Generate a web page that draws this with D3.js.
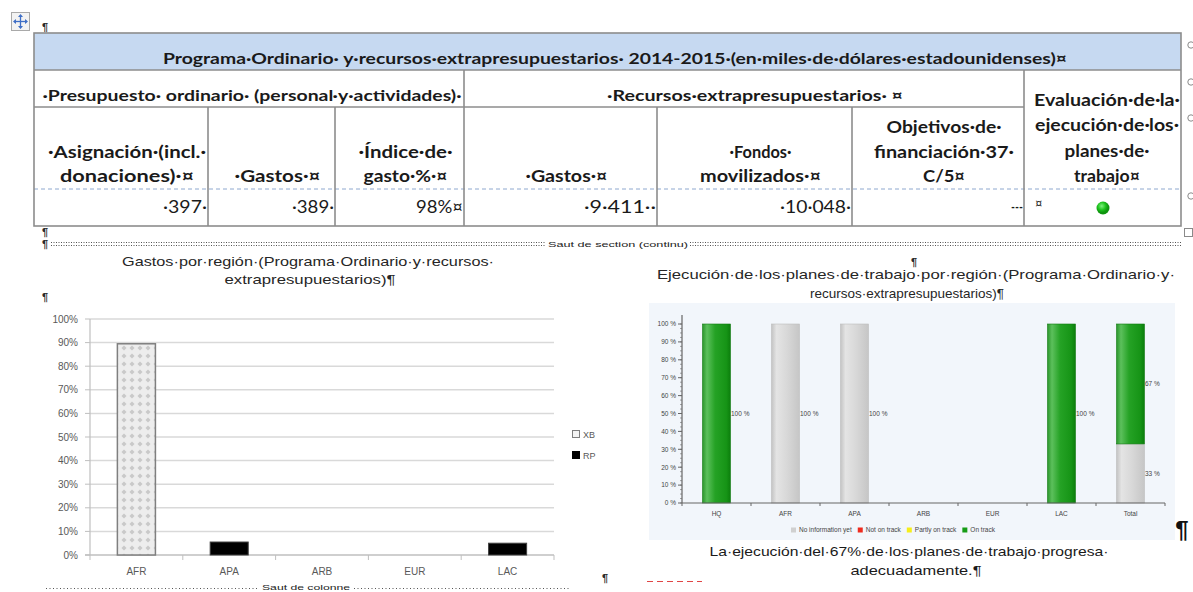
<!DOCTYPE html>
<html>
<head>
<meta charset="utf-8">
<script src="https://cdn.jsdelivr.net/npm/d3@7"></script>
<style>
  body { margin: 0; background: #fff; }
  svg { display: block; }
</style>
</head>
<body>
<svg id="page" width="1193" height="592"></svg>
<script>
// ---- table content ----
const tableTitle = "Programa·Ordinario· y·recursos·extrapresupuestarios· 2014-2015·(en·miles·de·dólares·estadounidenses)¤";
const groupLabels = ["·Presupuesto· ordinario· (personal·y·actividades)·", "·Recursos·extrapresupuestarios· ¤"];
const evalLabel = ["Evaluación·de·la·", "ejecución·de·los·", "planes·de·", "trabajo¤"];
const columnLabels = [
  ["·Asignación·(incl.·", "donaciones)·¤"],
  ["·Gastos·¤"],
  ["·Índice·de·", "gasto·%·¤"],
  ["·Gastos·¤"],
  ["·Fondos·", "movilizados·¤"],
  ["Objetivos·de·", "financiación·37·", "C/5¤"]
];
const tableValues = ["·397·", "·389·", "98%¤", "·9·411··", "·10·048·", "---"];

// ---- left chart: gastos por región ----
const regionCats = ["AFR", "APA", "ARB", "EUR", "LAC"];
const xbShare = [0.895, 0, 0, 0, 0];
const rpShare = [0, 0.055, 0, 0, 0.05];
const shareTicks = [0, 0.1, 0.2, 0.3, 0.4, 0.5, 0.6, 0.7, 0.8, 0.9, 1];
const shareSeries = ["XB", "RP"];

// ---- right chart: ejecución de los planes ----
const planCats = ["HQ", "AFR", "APA", "ARB", "EUR", "LAC", "Total"];
const noInfoPct = [0, 100, 100, 0, 0, 0, 33];
const notOnTrackPct = [0, 0, 0, 0, 0, 0, 0];
const partlyPct = [0, 0, 0, 0, 0, 0, 0];
const onTrackPct = [100, 0, 0, 0, 0, 100, 67];
const statusNames = ["No information yet", "Not on track", "Partly on track", "On track"];
const pctTicks = [0, 10, 20, 30, 40, 50, 60, 70, 80, 90, 100];

// layout (word table geometry, text widths as rendered by Calibri)
const colEdges = [34, 208, 335, 464, 657, 852, 1024, 1181];
const rowEdges = [33, 70, 107, 189, 226];
const colLabelWidths = [[158, 134], [86], [94, 84], [82], [62, 121], [115, 140, 42]];
const evalWidths = [146, 144, 85, 66];
const valueWidths = [44, 42, 47, 72, 71, 12];
const tableFont = "Lato";
const chartFont = "Liberation Sans";

const svg = d3.select("#page");
svg.append("rect").attr("width", 1193).attr("height", 592).attr("fill", "#fff");

function label(g, str, x, y, o = {}) {
  const t = g.append("text")
    .attr("x", x)
    .attr("y", y)
    .attr("font-family", o.family || chartFont)
    .attr("font-size", o.size || 12)
    .attr("font-weight", o.weight || "normal")
    .attr("fill", o.fill || "#222")
    .attr("text-anchor", o.anchor || "start")
    .text(str);
  if (o.width) t.attr("textLength", o.width).attr("lengthAdjust", "spacingAndGlyphs");
  return t;
}

const defs = svg.append("defs");

// ---------- word marks ----------
const marks = svg.append("g");
marks.append("rect").attr("x", 11.5).attr("y", 12.5).attr("width", 18).attr("height", 18)
  .attr("fill", "#f3f3f3").attr("stroke", "#a9a9a9");
const arrow = marks.append("g").attr("stroke", "#3f6fc6").attr("stroke-width", 1.3).attr("fill", "#3f6fc6");
arrow.append("line").attr("x1", 14).attr("x2", 27).attr("y1", 21.5).attr("y2", 21.5);
arrow.append("line").attr("x1", 20.5).attr("x2", 20.5).attr("y1", 15).attr("y2", 28);
arrow.append("path").attr("d", "M20.5,14 l-2.5,3 h5z M20.5,29 l-2.5,-3 h5z M13,21.5 l3,-2.5 v5z M28,21.5 l-3,-2.5 v5z").attr("stroke", "none");

[[45, 31], [45, 236], [914, 266], [45, 301], [605, 582]].forEach(([x, y]) =>
  label(marks, "¶", x, y, { size: 11, weight: "bold", fill: "#2b2b2b", anchor: "middle" }));

[45, 82, 118, 196].forEach(cy =>
  marks.append("circle").attr("cx", 1191).attr("cy", cy).attr("r", 3.2)
    .attr("fill", "none").attr("stroke", "#8a8a8a"));
marks.append("rect").attr("x", 1184.5).attr("y", 228.5).attr("width", 8).attr("height", 8)
  .attr("fill", "none").attr("stroke", "#8a8a8a");

// section break
label(marks, "¶", 45, 248, { size: 11, weight: "bold", fill: "#2b2b2b", anchor: "middle" });
[[51, 546], [690, 1181]].forEach(([a, b]) => {
  [242.5, 245.5].forEach(y => marks.append("line").attr("x1", a).attr("x2", b).attr("y1", y).attr("y2", y)
    .attr("stroke", "#555").attr("stroke-dasharray", "1,1.5"));
});
label(marks, "Saut de section (continu)", 618, 247, { size: 8, fill: "#222", anchor: "middle", width: 140 });

// column break (at the bottom edge)
[[46, 258], [354, 571]].forEach(([a, b]) =>
  marks.append("line").attr("x1", a).attr("x2", b).attr("y1", 588.5).attr("y2", 588.5)
    .attr("stroke", "#555").attr("stroke-dasharray", "1,2.5"));
label(marks, "Saut de colonne", 306, 590, { size: 8, fill: "#222", anchor: "middle", width: 88 });
marks.append("line").attr("x1", 647).attr("x2", 702).attr("y1", 581.5).attr("y2", 581.5)
  .attr("stroke", "#e04545").attr("stroke-dasharray", "6,4");

// ---------- table ----------
const tbl = svg.append("g");
tbl.append("rect").attr("x", colEdges[0]).attr("y", rowEdges[0])
  .attr("width", colEdges[7] - colEdges[0]).attr("height", rowEdges[1] - rowEdges[0])
  .attr("fill", "#c6d9f1");

tbl.append("line").attr("x1", colEdges[0]).attr("x2", colEdges[7])
  .attr("y1", rowEdges[3]).attr("y2", rowEdges[3])
  .attr("stroke", "#8ea8cf").attr("stroke-width", 1).attr("stroke-dasharray", "4,3");

const border = tbl.append("g").attr("stroke", "#8c8c8c").attr("stroke-width", 1.6).attr("fill", "none");
border.append("rect").attr("x", colEdges[0]).attr("y", rowEdges[0])
  .attr("width", colEdges[7] - colEdges[0]).attr("height", rowEdges[4] - rowEdges[0]);
border.append("line").attr("x1", colEdges[0]).attr("x2", colEdges[7]).attr("y1", rowEdges[1]).attr("y2", rowEdges[1]);
border.append("line").attr("x1", colEdges[0]).attr("x2", colEdges[6]).attr("y1", rowEdges[2]).attr("y2", rowEdges[2]);
[3, 6].forEach(i => border.append("line").attr("x1", colEdges[i]).attr("x2", colEdges[i])
  .attr("y1", rowEdges[1]).attr("y2", rowEdges[4]));
[1, 2, 4, 5].forEach(i => border.append("line").attr("x1", colEdges[i]).attr("x2", colEdges[i])
  .attr("y1", rowEdges[2]).attr("y2", rowEdges[4]));

const bold = { family: tableFont, size: 17, weight: "bold", fill: "#1a1a1a", anchor: "middle" };
label(tbl, tableTitle, 615, 64, { ...bold, size: 15.5, width: 904 });
label(tbl, groupLabels[0], 252, 101, { ...bold, size: 15.5, width: 419 });
label(tbl, groupLabels[1], 755, 101, { ...bold, size: 15.5, width: 296 });

evalLabel.forEach((s, i) =>
  label(tbl, s, 1107, 106 + i * 25.3, { ...bold, width: evalWidths[i] }));

columnLabels.forEach((lines, c) => {
  const cx = (colEdges[c] + colEdges[c + 1]) / 2 + 6;
  lines.forEach((s, i) => {
    const y = 182 - (lines.length - 1 - i) * 24.5;
    label(tbl, s, cx, y, { ...bold, width: colLabelWidths[c][i] });
  });
});

tableValues.forEach((v, c) =>
  label(tbl, v, colEdges[c + 1] - 1, 213, { family: tableFont, size: 17, fill: "#1a1a1a", anchor: "end", width: valueWidths[c] }));

label(tbl, "¤", 1035, 208, { family: tableFont, size: 13, fill: "#1a1a1a" });
const dot = defs.append("radialGradient").attr("id", "dotGrad").attr("cx", "40%").attr("cy", "35%");
dot.append("stop").attr("offset", "0%").attr("stop-color", "#7ef07e");
dot.append("stop").attr("offset", "60%").attr("stop-color", "#1ec41e");
dot.append("stop").attr("offset", "100%").attr("stop-color", "#0e950e");
tbl.append("circle").attr("cx", 1103).attr("cy", 208).attr("r", 6.5).attr("fill", "url(#dotGrad)");

// ---------- left chart ----------
label(svg, "Gastos·por·región·(Programa·Ordinario·y·recursos·", 308, 266, { size: 13.5, fill: "#262626", anchor: "middle", width: 372 });
label(svg, "extrapresupuestarios)¶", 310, 284, { size: 13.5, fill: "#262626", anchor: "middle", width: 171 });

const left = svg.append("g");
const x1 = d3.scaleBand().domain(regionCats).range([90, 554]);
const y1 = d3.scaleLinear().domain([0, 1]).range([555, 319]);
const barW1 = x1.bandwidth() * 0.41;

const pat = defs.append("pattern").attr("id", "xbPattern").attr("patternUnits", "userSpaceOnUse")
  .attr("width", 8).attr("height", 8);
pat.append("rect").attr("width", 8).attr("height", 8).attr("fill", "#ededed");
pat.append("path").attr("d", "M4,1.5 l2.5,2.5 l-2.5,2.5 l-2.5,-2.5z").attr("fill", "#c9c9c9");

left.selectAll(".grid").data(shareTicks.filter(d => d > 0)).join("line")
  .attr("x1", x1.range()[0]).attr("x2", x1.range()[1])
  .attr("y1", d => y1(d)).attr("y2", d => y1(d))
  .attr("stroke", "#d9d9d9").attr("stroke-width", 1.5);

left.append("line").attr("x1", x1.range()[0]).attr("x2", x1.range()[0]).attr("y1", y1(1)).attr("y2", y1(0))
  .attr("stroke", "#bfbfbf").attr("stroke-width", 1.2);
left.append("line").attr("x1", x1.range()[0] - 5).attr("x2", x1.range()[1]).attr("y1", y1(0)).attr("y2", y1(0))
  .attr("stroke", "#bfbfbf").attr("stroke-width", 1.5);
left.selectAll(".ytick").data(shareTicks).join("line")
  .attr("x1", x1.range()[0] - 5).attr("x2", x1.range()[0]).attr("y1", d => y1(d)).attr("y2", d => y1(d))
  .attr("stroke", "#bfbfbf");
left.selectAll(".xtick").data(regionCats.concat(["end"])).join("line")
  .attr("x1", (d, i) => x1.range()[0] + i * x1.step()).attr("x2", (d, i) => x1.range()[0] + i * x1.step())
  .attr("y1", y1(0)).attr("y2", y1(0) + 5).attr("stroke", "#bfbfbf");

const fmtShare = d3.format(".0%");
shareTicks.forEach(d => label(left, fmtShare(d), 78, y1(d) + 3.5, { size: 10, fill: "#595959", anchor: "end" }));
regionCats.forEach(c => label(left, c, x1(c) + x1.bandwidth() / 2, 575, { size: 10, fill: "#595959", anchor: "middle" }));

regionCats.forEach((c, i) => {
  const bx = x1(c) + (x1.bandwidth() - barW1) / 2;
  if (xbShare[i] > 0) {
    left.append("rect").attr("x", bx).attr("y", y1(xbShare[i])).attr("width", barW1)
      .attr("height", y1(0) - y1(xbShare[i])).attr("fill", "url(#xbPattern)")
      .attr("stroke", "#7f7f7f").attr("stroke-width", 1.5);
  }
  if (rpShare[i] > 0) {
    const top = xbShare[i] + rpShare[i];
    left.append("rect").attr("x", bx).attr("y", y1(top)).attr("width", barW1)
      .attr("height", y1(xbShare[i]) - y1(top)).attr("fill", "#000")
      .attr("stroke", "#404040").attr("stroke-width", 1);
  }
});

shareSeries.forEach((s, i) => {
  const ly = 435 + i * 21;
  left.append("rect").attr("x", 572.5).attr("y", ly - 4.5).attr("width", 7).attr("height", 7)
    .attr("fill", i === 0 ? "#f4f4f4" : "#000").attr("stroke", i === 0 ? "#7f7f7f" : "#000");
  label(left, s, 583, ly + 3, { size: 9, fill: "#595959" });
});

// ---------- right chart ----------
label(svg, "Ejecución·de·los·planes·de·trabajo·por·región·(Programa·Ordinario·y·", 916, 279, { size: 13.5, fill: "#262626", anchor: "middle", width: 518 });
label(svg, "recursos·extrapresupuestarios)¶", 907, 298, { size: 13.5, fill: "#262626", anchor: "middle" });

const right = svg.append("g");
right.append("rect").attr("x", 649).attr("y", 303).attr("width", 526).attr("height", 237).attr("fill", "#f2f6fb");

const x2 = d3.scaleBand().domain(planCats).range([682, 1165]);
const y2 = d3.scaleLinear().domain([0, 100]).range([503, 324]);
const barW2 = 28;

function barGradient(id, stops) {
  const g = defs.append("linearGradient").attr("id", id).attr("x1", "0%").attr("x2", "100%");
  stops.forEach(([o, c]) => g.append("stop").attr("offset", o).attr("stop-color", c));
}
barGradient("gNoInfo", [["0%", "#c3c3c3"], ["18%", "#e4e4e4"], ["55%", "#d8d8d8"], ["100%", "#c6c6c6"]]);
barGradient("gNotOn", [["0%", "#c81a10"], ["20%", "#f24a40"], ["100%", "#c81a10"]]);
barGradient("gPartly", [["0%", "#d8d00a"], ["20%", "#fff55a"], ["100%", "#d8d00a"]]);
barGradient("gOnTrack", [["0%", "#2a962a"], ["16%", "#5cc05c"], ["45%", "#25a225"], ["85%", "#169416"], ["100%", "#0c7e0c"]]);
const statusFill = ["url(#gNoInfo)", "url(#gNotOn)", "url(#gPartly)", "url(#gOnTrack)"];
const statusSwatch = ["#d0d0d0", "#ee2b1f", "#f6ee1a", "#169c16"];

const planRows = planCats.map((c, i) => ({
  cat: c,
  s0: noInfoPct[i], s1: notOnTrackPct[i], s2: partlyPct[i], s3: onTrackPct[i]
}));
const stacked = d3.stack().keys(["s0", "s1", "s2", "s3"])(planRows);

stacked.forEach((layer, k) => {
  layer.forEach(seg => {
    const v = seg[1] - seg[0];
    if (v <= 0) return;
    const bx = x2(seg.data.cat) + (x2.bandwidth() - barW2) / 2;
    right.append("rect").attr("x", bx).attr("y", y2(seg[1])).attr("width", barW2)
      .attr("height", y2(seg[0]) - y2(seg[1])).attr("fill", statusFill[k])
      .attr("stroke", k === 0 ? "#bdbdbd" : "#137a13").attr("stroke-width", 0.6);
    label(right, `${v} %`, bx + barW2 + 0.5, (y2(seg[0]) + y2(seg[1])) / 2 + 2.5, { size: 6.5, fill: "#444" });
  });
});

const ax = right.append("g").attr("stroke", "#666");
ax.append("line").attr("x1", 682).attr("x2", 682).attr("y1", 315).attr("y2", 503).attr("stroke-width", 1.2);
ax.append("line").attr("x1", 682).attr("x2", 1165).attr("y1", 503).attr("y2", 503).attr("stroke-width", 1.2);
d3.range(0, 101, 2.5).forEach(d => ax.append("line").attr("x1", 680).attr("x2", 682)
  .attr("y1", y2(d)).attr("y2", y2(d)).attr("stroke-width", 0.6));
pctTicks.forEach(d => ax.append("line").attr("x1", 678).attr("x2", 682).attr("y1", y2(d)).attr("y2", y2(d)));
planCats.concat(["end"]).forEach((c, i) => ax.append("line")
  .attr("x1", 682 + i * x2.step()).attr("x2", 682 + i * x2.step()).attr("y1", 503).attr("y2", 506));

pctTicks.forEach(d => label(right, `${d} %`, 676, y2(d) + 2.3, { size: 6.5, fill: "#444", anchor: "end" }));
planCats.forEach(c => label(right, c, x2(c) + x2.bandwidth() / 2, 516, { size: 6.5, fill: "#444", anchor: "middle" }));

let lx = 791;
statusNames.forEach((n, i) => {
  right.append("rect").attr("x", lx).attr("y", 527.5).attr("width", 5).attr("height", 5).attr("fill", statusSwatch[i]);
  const t = label(right, n, lx + 8, 532.3, { size: 6.5, fill: "#444" });
  lx += 8 + t.node().getComputedTextLength() + 6;
});

label(svg, "¶", 1182, 538, { size: 24, weight: "bold", fill: "#111", anchor: "middle" });

label(svg, "La·ejecución·del·67%·de·los·planes·de·trabajo·progresa·", 909, 556, { size: 13.5, fill: "#1a1a1a", anchor: "middle", width: 399 });
label(svg, "adecuadamente.¶", 916, 575, { size: 13.5, fill: "#1a1a1a", anchor: "middle", width: 131 });
</script>
</body>
</html>
